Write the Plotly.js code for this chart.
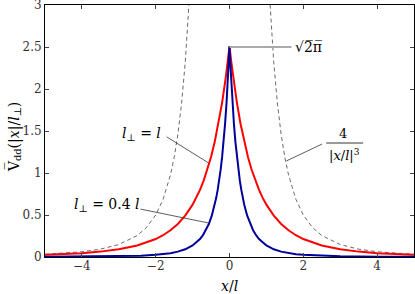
<!DOCTYPE html>
<html><head><meta charset="utf-8">
<script src="https://cdn.plot.ly/plotly-3.0.1.min.js"></script>
<style>body{margin:0;background:#fff}#c{width:415px;height:294px}</style>
</head><body><div id="c"></div>
<script>
// red curve: l_perp = l
const redX = [-5,-4.5,-4,-3.5,-3,-2.5,-2,-1.8,-1.6,-1.4,-1.2,-1,-0.9,-0.8,-0.7,-0.6,-0.5,-0.4,-0.3,-0.2,-0.1,-0.05,0,0.05,0.1,0.2,0.3,0.4,0.5,0.6,0.7,0.8,0.9,1,1.2,1.4,1.6,1.8,2,2.5,3,3.5,4,4.5,5];
const redY = [0.026,0.034,0.046,0.064,0.092,0.137,0.214,0.259,0.318,0.393,0.492,0.623,0.704,0.799,0.909,1.039,1.191,1.371,1.584,1.838,2.142,2.316,2.507,2.316,2.142,1.838,1.584,1.371,1.191,1.039,0.909,0.799,0.704,0.623,0.492,0.393,0.318,0.259,0.214,0.137,0.092,0.064,0.046,0.034,0.026];
// blue curve: l_perp = 0.4 l
const blueX = [-5,-4,-3,-2.4,-2,-1.8,-1.6,-1.4,-1.2,-1,-0.8,-0.72,-0.64,-0.56,-0.48,-0.4,-0.36,-0.32,-0.28,-0.24,-0.2,-0.16,-0.12,-0.08,-0.04,-0.02,0,0.02,0.04,0.08,0.12,0.16,0.2,0.24,0.28,0.32,0.36,0.4,0.48,0.56,0.64,0.72,0.8,1,1.2,1.4,1.6,1.8,2,2.4,3,4,5];
const blueY = [0.002,0.004,0.0086,0.0161,0.026,0.034,0.046,0.064,0.092,0.137,0.214,0.259,0.318,0.393,0.492,0.623,0.704,0.799,0.909,1.039,1.191,1.371,1.584,1.838,2.142,2.316,2.507,2.316,2.142,1.838,1.584,1.371,1.191,1.039,0.909,0.799,0.704,0.623,0.492,0.393,0.318,0.259,0.214,0.137,0.092,0.064,0.046,0.034,0.026,0.0161,0.0086,0.004,0.002];
// asymptote 4/|x|^3
const asymLX = [-5,-4.5,-4,-3.5,-3,-2.5,-2.25,-2,-1.8,-1.6,-1.5,-1.4,-1.3,-1.2,-1.1];
const asymLY = [0.032,0.0439,0.0625,0.0933,0.148,0.256,0.351,0.5,0.686,0.977,1.185,1.458,1.821,2.315,3.005];
const asymRX = [1.1,1.2,1.3,1.4,1.5,1.6,1.8,2,2.25,2.5,3,3.5,4,4.5,5];
const asymRY = [3.005,2.315,1.821,1.458,1.185,0.977,0.686,0.5,0.351,0.256,0.148,0.0933,0.0625,0.0439,0.032];
const xTicks = [-4,-2,0,2,4];
const xTickText = ['\u22124','\u22122','0','2','4'];
const yTicks = [0,0.5,1,1.5,2,2.5,3];
const yTickText = ['0','0.5','1','1.5','2','2.5','3'];

const F = 'DejaVu Serif';
const dashStyle = {color:'#444', width:0.8, dash:'4px,3px'};
const traces = [
  {x:asymLX, y:asymLY, mode:'lines', line:dashStyle, hoverinfo:'skip'},
  {x:asymRX, y:asymRY, mode:'lines', line:dashStyle, hoverinfo:'skip'},
  {x:redX, y:redY, mode:'lines', line:{color:'#ff0000', width:2}},
  {x:blueX, y:blueY, mode:'lines', line:{color:'#00009a', width:2}}
];
const lc = '#333';
const layout = {
  width:415, height:294, showlegend:false,
  margin:{l:45, r:1, t:5, b:37},
  paper_bgcolor:'#fff', plot_bgcolor:'#fff',
  font:{family:F, size:12, color:'#000'},
  xaxis:{range:[-5,5], tickvals:xTicks, ticktext:xTickText, ticks:'inside', ticklen:4,
    showline:true, linecolor:'#000', linewidth:1, mirror:'ticks', showgrid:false, zeroline:false,
    ticklabelstandoff:-2, ticklabeloverflow:'allow', tickfont:{family:F, size:12, color:'#333'}},
  yaxis:{range:[0,3], tickvals:yTicks, ticktext:yTickText, ticks:'inside', ticklen:4,
    showline:true, linecolor:'#000', linewidth:1, mirror:'ticks', showgrid:false, zeroline:false,
    ticklabeloverflow:'allow', tickfont:{family:F, size:12, color:'#333'}},
  shapes:[
    {type:'line', x0:-1.70, y0:1.43, x1:-0.57, y1:1.12, line:{color:lc, width:0.8}},
    {type:'line', x0:-2.41, y0:0.57, x1:-0.57, y1:0.405, line:{color:lc, width:0.8}},
    {type:'line', x0:0, y0:2.5, x1:1.68, y1:2.5, line:{color:'#aaa', width:2}},
    {type:'line', x0:2.62, y0:1.357, x1:3.62, y1:1.357, line:{color:'#000', width:0.8}},
    {type:'line', x0:1.54, y0:1.143, x1:2.51, y1:1.345, line:{color:lc, width:0.8}}
  ],
  annotations:[
    {x:-2.38, y:1.46, text:'<i>l</i><sub>\u22a5</sub> = <i>l</i>', showarrow:false, font:{size:14}},
    {x:-3.32, y:0.62, text:'<i>l</i><sub>\u22a5</sub> = 0.4 <i>l</i>', showarrow:false, font:{size:14}},
    {x:1.73, y:2.5, xanchor:'left', text:'\u221a2\u0305\u03c0\u0305', showarrow:false, font:{size:14}},
    {x:3.08, y:1.476, text:'4', showarrow:false, font:{size:13}},
    {x:3.11, y:1.21, text:'|<i>x</i>/<i>l</i>|<sup>3</sup>', showarrow:false, font:{size:13}},
    {xref:'paper', yref:'paper', x:0.5, y:-0.115, xanchor:'center', yanchor:'middle', text:'<i>x</i>/<i>l</i>', showarrow:false, font:{size:14}},
    {xref:'paper', yref:'paper', x:-0.0867, y:0.476, xanchor:'center', yanchor:'middle', textangle:-90,
     text:'V\u0305<sub>dd</sub>(|<i>x</i>|/<i>l</i><sub>\u22a5</sub>)', showarrow:false, font:{size:14}}
  ]
};
Plotly.newPlot('c', traces, layout, {staticPlot:true, displayModeBar:false});
</script></body></html>
